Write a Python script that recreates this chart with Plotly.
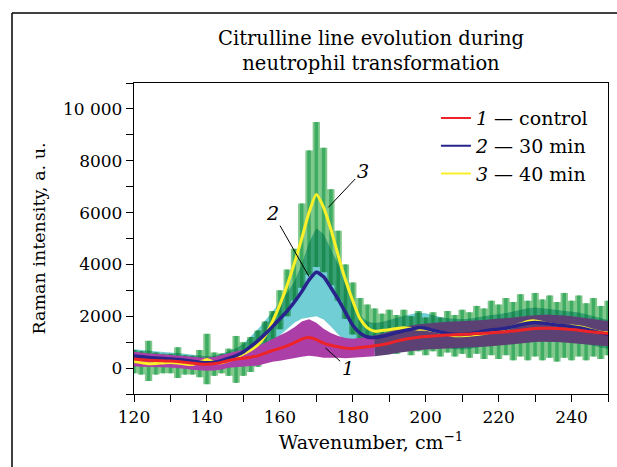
import numpy as np
import plotly.graph_objects as go

# ---------------- data ----------------
wavenumber = [120, 122, 124, 126, 128, 130, 132, 134, 136, 138, 140, 142, 144, 146, 148,
              150, 152, 154, 156, 158, 160, 162, 164, 166, 168, 170, 172, 174, 176, 178,
              180, 182, 184, 186, 188, 190, 192, 194, 196, 198, 200, 202, 204, 206, 208,
              210, 212, 214, 216, 218, 220, 222, 224, 226, 228, 230, 232, 234, 236, 238,
              240, 242, 244, 246, 248, 250]

# 1 - control (mean)
control = [350, 320, 300, 290, 280, 270, 250, 220, 190, 160, 150, 170, 220, 290, 350,
           380, 420, 470, 580, 680, 760, 860, 980, 1120, 1180, 1100, 960, 880, 820, 770,
           760, 790, 820, 860, 900, 960, 1040, 1100, 1150, 1190, 1220, 1240, 1260, 1280, 1290,
           1300, 1310, 1330, 1340, 1360, 1380, 1400, 1430, 1460, 1500, 1530, 1540, 1540, 1530, 1510,
           1490, 1460, 1420, 1390, 1360, 1330]
control_sd = [280, 270, 260, 260, 250, 250, 250, 250, 250, 250, 250, 260, 270, 280, 300,
              320, 340, 370, 400, 440, 480, 540, 600, 680, 700, 650, 560, 470, 420, 390,
              370, 370, 380, 400, 420, 440, 460, 480, 490, 500, 500, 510, 510, 510, 510,
              510, 510, 520, 520, 520, 520, 520, 520, 520, 520, 520, 520, 520, 520, 520,
              510, 510, 500, 500, 490, 490]

# 2 - 30 min (mean)
min30 = [470, 440, 410, 390, 370, 350, 330, 300, 260, 230, 210, 230, 290, 380, 480,
         620, 830, 1060, 1320, 1600, 1900, 2200, 2550, 2950, 3400, 3700, 3520, 3100, 2650, 2150,
         1650, 1350, 1200, 1180, 1220, 1290, 1370, 1440, 1500, 1560, 1540, 1460, 1390, 1340, 1310,
         1300, 1320, 1370, 1430, 1470, 1500, 1540, 1600, 1670, 1730, 1760, 1740, 1700, 1660, 1630,
         1600, 1560, 1500, 1430, 1360, 1300]
min30_sd = [260, 260, 250, 250, 250, 250, 250, 250, 250, 250, 250, 250, 260, 270, 290,
            320, 380, 450, 520, 580, 640, 700, 800, 1050, 1450, 1700, 1650, 1500, 1350, 1100,
            850, 680, 600, 560, 560, 570, 580, 580, 580, 580, 580, 580, 580, 580, 580,
            580, 580, 580, 580, 580, 580, 580, 580, 580, 580, 580, 580, 580, 580, 580,
            580, 580, 580, 570, 570, 560]

# 3 - 40 min (mean) and its error range
min40 = [250, 210, 170, 180, 200, 220, 200, 160, 140, 220, 330, 230, 210, 290, 400,
         550, 700, 900, 1250, 1800, 2450, 3200, 4050, 5000, 6000, 6700, 6200, 5350, 4350, 3400,
         2600, 1900, 1550, 1420, 1450, 1480, 1530, 1560, 1530, 1500, 1500, 1450, 1380, 1300, 1250,
         1250, 1270, 1300, 1330, 1400, 1450, 1520, 1600, 1700, 1800, 1820, 1760, 1700, 1660, 1630,
         1620, 1600, 1540, 1450, 1380, 1350]
min40_high = [700, 650, 1050, 600, 550, 550, 800, 500, 480, 700, 1320, 600, 560, 750, 1240,
              1000, 1200, 1450, 1800, 2200, 3000, 3800, 4600, 6350, 8400, 9500, 8500, 6900, 5300, 4000,
              3300, 2700, 2450, 2300, 2100, 2250, 2050, 2250, 2000, 2200, 1950, 2150, 1950, 2200, 2050,
              2250, 2150, 2400, 2300, 2600, 2450, 2700, 2550, 2850, 2600, 2900, 2650, 2800, 2550, 2900,
              2600, 2800, 2500, 2700, 2400, 2600]
min40_low = [-200, -250, -500, -250, -200, -200, -380, -250, -250, -350, -620, -300, -200, -300, -570,
             -300, -150, 50, 400, 900, 1500, 2000, 2600, 3100, 3600, 3900, 3700, 3200, 2600, 1900,
             1300, 900, 700, 800, 600, 750, 550, 700, 500, 650, 500, 650, 450, 600, 450,
             550, 400, 550, 350, 500, 350, 500, 300, 450, 300, 450, 300, 400, 250, 400,
             300, 450, 300, 450, 350, 500]

series_names = ["<i>1</i> — control", "<i>2</i> — 30 min", "<i>3</i> — 40 min"]
x_tick_vals = [120, 140, 160, 180, 200, 220, 240]
y_tick_vals = [0, 2000, 4000, 6000, 8000, 10000]
y_tick_text = ["0", "2000", "4000", "6000", "8000", "10 000"]

# curve labels: (label, target wavenumber, target value, label wavenumber, label value)
curve_labels = [("3", 173.3, 6200, 182.7, 7600),
                ("2", 168.0, 3530, 158.1, 5980),
                ("1", 172.5, 780, 178.6, 0)]

# ---------------- styling ----------------
FONT = "DejaVu Serif"
RED = "rgb(236,36,40)"
NAVY = "rgb(40,36,140)"
YELLOW = "rgb(250,240,40)"
GREEN_FILL = "rgb(128,200,140)"
GREEN_BAR = "rgb(62,172,98)"
CYAN_FILL = "rgb(112,206,212)"
MAGENTA_FILL = "rgb(172,62,168)"
PURPLE_FILL = "rgb(92,66,116)"

wn = np.array(wavenumber, dtype=float)
c_mean, c_sd = np.array(control, float), np.array(control_sd, float)
b_mean, b_sd = np.array(min30, float), np.array(min30_sd, float)
y_mean = np.array(min40, float)
g_hi, g_lo = np.array(min40_high, float), np.array(min40_low, float)


def band(lo, hi, color, shape="linear", mask=None):
    if mask is None:
        mask = np.ones_like(wn, dtype=bool)
    xs = np.concatenate([wn[mask], wn[mask][::-1]])
    ys = np.concatenate([hi[mask], lo[mask][::-1]])
    return go.Scatter(x=xs, y=ys, mode="lines", fill="toself", fillcolor=color,
                      line=dict(width=0, shape=shape), hoverinfo="skip", showlegend=False)


fig = go.Figure()
# 40 min error range: stepped envelope + vertical error bars
fig.add_trace(band(g_lo, g_hi, GREEN_FILL, shape="hvh"))
fig.add_trace(go.Scatter(x=wn, y=y_mean, mode="markers", marker=dict(size=0.1, opacity=0),
                         hoverinfo="skip", showlegend=False,
                         error_y=dict(type="data", symmetric=False, array=g_hi - y_mean,
                                      arrayminus=y_mean - g_lo, color=GREEN_BAR,
                                      thickness=3.5, width=0)))
fig.add_trace(band(b_mean - b_sd, b_mean + b_sd, CYAN_FILL))
fig.add_trace(band(c_mean - c_sd, c_mean + c_sd, MAGENTA_FILL, mask=wn <= 186))
fig.add_trace(band(c_mean - c_sd, c_mean + c_sd, PURPLE_FILL, mask=wn >= 186))

for ys, col, w in [(y_mean, YELLOW, 3), (b_mean, NAVY, 3.5), (c_mean, RED, 3)]:
    fig.add_trace(go.Scatter(x=wn, y=ys, mode="lines", showlegend=False, hoverinfo="skip",
                             line=dict(color=col, width=w, shape="spline", smoothing=0.6)))

# legend entries (thin line samples)
for name, col in zip(series_names, [RED, NAVY, YELLOW]):
    fig.add_trace(go.Scatter(x=[None], y=[None], mode="lines", name=name,
                             line=dict(color=col, width=2)))

for lab, tx, ty, lx, ly in curve_labels:
    fig.add_annotation(x=tx, y=ty, ax=lx, ay=ly, axref="x", ayref="y", xref="x", yref="y",
                       text=f"<i>{lab}</i>", showarrow=True, arrowhead=0, arrowwidth=1,
                       arrowcolor="black", standoff=0,
                       font=dict(family=FONT, size=19, color="black"))

# outer frame lines
fig.add_shape(type="line", xref="paper", yref="paper", x0=-0.2574, x1=1.05, y0=1.225, y1=1.225,
              line=dict(color="black", width=1.5))
fig.add_shape(type="line", xref="paper", yref="paper", x0=-0.2574, x1=-0.2574, y0=1.225, y1=-0.3,
              line=dict(color="black", width=1.5))

axis_common = dict(showline=True, linecolor="black", linewidth=1.3, mirror=True,
                   ticks="outside", ticklen=7, tickwidth=1.2, tickcolor="black",
                   showgrid=False, zeroline=False, automargin=False,
                   tickfont=dict(family=FONT, size=17, color="black"))

fig.update_layout(
    width=617, height=467,
    margin=dict(l=134, r=9, t=83, b=73),
    paper_bgcolor="white", plot_bgcolor="white",
    title=dict(text="Citrulline line evolution during<br>neutrophil transformation",
               x=0.5, xref="paper", xanchor="center", y=1 - 45 / 467, yref="container",
               yanchor="top", font=dict(family=FONT, size=19.5, color="black")),
    xaxis=dict(range=[120, 250], tickvals=x_tick_vals,
               minor=dict(dtick=10, tick0=120, ticks="outside", ticklen=7, tickcolor="black"),
               title=dict(text="Wavenumber, cm<sup>−1</sup>", standoff=10,
                          font=dict(family=FONT, size=19, color="black")),
               **axis_common),
    yaxis=dict(range=[-1000, 11000], tickvals=y_tick_vals, ticktext=y_tick_text,
               minor=dict(dtick=1000, tick0=0, ticks="outside", ticklen=7, tickcolor="black"),
               title=dict(text="Raman intensity, a. u.", standoff=12,
                          font=dict(family=FONT, size=17.5, color="black")),
               **axis_common),
    legend=dict(x=0.637, y=0.948, xanchor="left", yanchor="top", bgcolor="rgba(0,0,0,0)",
                font=dict(family=FONT, size=19, color="black"), traceorder="normal"),
    showlegend=True,
)

js = """
document.body.style.margin = '0';
var gd = document.getElementById('{plot_id}');
gd.querySelectorAll('.js-fill').forEach(function(p){
  var s = p.getAttribute('style') || '';
  if (s.indexOf('112, 206, 212') >= 0) { p.style.mixBlendMode = 'multiply'; }
});
"""
fig.write_html("out.html", post_script=js, config={"displayModeBar": False})
